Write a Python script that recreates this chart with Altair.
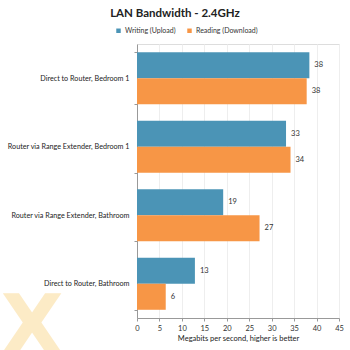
import altair as alt
import pandas as pd

categories = [
    "Direct to Router, Bedroom 1",
    "Router via Range Extender, Bedroom 1",
    "Router via Range Extender, Bathroom",
    "Direct to Router, Bathroom",
]
series = ["Writing (Upload)", "Reading (Download)"]
writing = [38.4, 33.2, 19.2, 12.9]
reading = [37.8, 34.2, 27.3, 6.4]
x_ticks = [0, 5, 10, 15, 20, 25, 30, 35, 40, 45]

rows = []
for c, w, r in zip(categories, writing, reading):
    rows.append({"cat": c, "series": series[0], "val": w, "ord": 0})
    rows.append({"cat": c, "series": series[1], "val": r, "ord": 1})
df = pd.DataFrame(rows)

FONT = "Lato"
color = alt.Color(
    "series:N",
    scale=alt.Scale(domain=series, range=["#4b94b6", "#f79646"]),
    legend=alt.Legend(
        title=None, orient="none", direction="horizontal",
        legendX=-22, legendY=-17, symbolType="square", symbolSize=20,
        labelFontSize=7, labelFont=FONT, labelColor="#333", columnPadding=10,
        symbolStrokeWidth=0, labelOffset=3,
    ),
)

y = alt.Y(
    "cat:N", sort=categories, title=None,
    scale=alt.Scale(paddingInner=0.24, paddingOuter=0.12),
    axis=alt.Axis(
        labelFont=FONT, labelFontSize=7.2, labelColor="#222", labelPadding=5,
        tickBand="extent", tickSize=3, tickColor="#999", domainColor="#999",
        labelLimit=200,
    ),
)
x = alt.X(
    "val:Q", title="Megabits per second,  higher is better",
    scale=alt.Scale(domain=[0, 45], nice=False),
    axis=alt.Axis(
        values=x_ticks, labelFont=FONT, labelFontSize=7.5, labelColor="#333",
        labelOverlap=False, labelFlush=False,
        titleFont=FONT, titleFontSize=7.5, titleFontWeight="normal", titleColor="#222",
        titlePadding=3, tickSize=3, tickColor="#999", domainColor="#999",
        gridColor="#eeeeee", labelPadding=3,
    ),
)

base = alt.Chart(df).encode(
    x=x, y=y, yOffset=alt.YOffset("ord:O", sort=[0, 1]),
)
bars = base.mark_bar().encode(color=color)
labels = base.mark_text(align="left", dx=5, font=FONT, fontSize=7.5, color="#333").encode(
    text=alt.Text("val:Q", format=".0f")
)

wm = alt.Chart(pd.DataFrame({"t": ["X"]})).mark_text(
    font="DejaVu Sans", fontWeight="bold", fontSize=82, color="#fbd88f", opacity=0.5,
    align="center", baseline="alphabetic",
).encode(text="t:N", x=alt.value(-105), y=alt.value(309))

chart = alt.layer(wm, bars, labels).properties(
    width=202, height=274,
    autosize=alt.AutoSizeParams(type="none"),
    padding={"left": 137, "top": 44, "right": 11, "bottom": 32},
    title=alt.Title(
        "LAN Bandwidth - 2.4GHz", font=FONT, fontSize=11.5, fontWeight="bold",
        color="#222", anchor="middle", dx=-63, offset=8,
    ),
).configure_view(stroke=None).configure(background="white")

chart.save("out.html", embed_options={"renderer": "svg", "actions": False})
